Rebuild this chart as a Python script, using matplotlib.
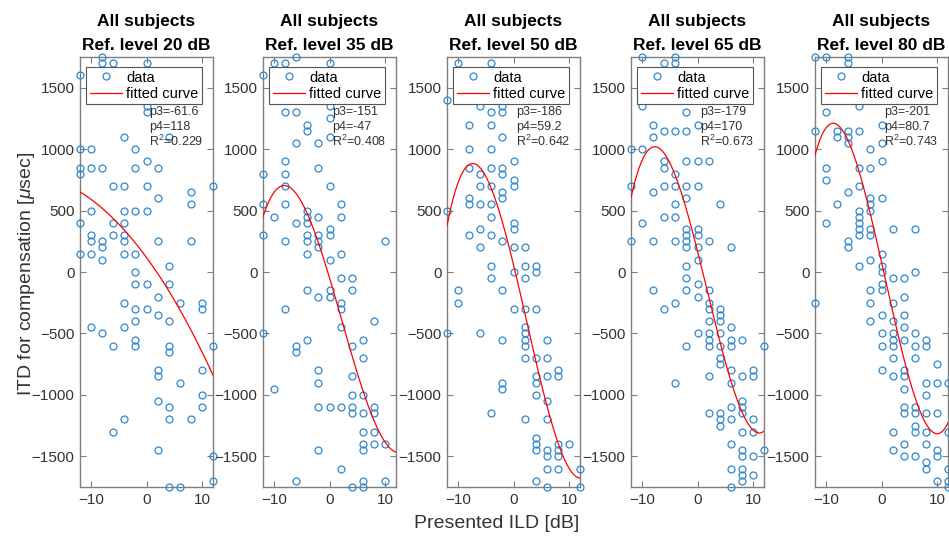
import matplotlib
matplotlib.use("Agg")
import matplotlib.pyplot as plt
import numpy as np

plt.rcParams['font.family'] = ['Liberation Sans', 'DejaVu Sans']
plt.rcParams['mathtext.fontset'] = 'custom'
plt.rcParams['mathtext.rm'] = 'Liberation Sans'
plt.rcParams['mathtext.it'] = 'Liberation Sans:italic'

# reference levels (dB)
levels = [20, 35, 50, 65, 80]

# ITD compensation values [usec] per presented ILD [dB]
itd_20 = {
    -12: [1600, 1000, 850, 800, 400, 150],
    -10: [1000, 850, 500, 300, 250, 150, -450],
    -8: [1750, 1700, 850, 250, 200, 100, -500],
    -6: [1700, 700, 400, 300, -600, -1300],
    -4: [1100, 700, 500, 400, 300, 250, 150, -250, -450, -1200],
    -2: [1000, 850, 500, 150, 0, -100, -300, -400, -550, -600],
    0: [1700, 1350, 1300, 900, 700, 500, -100, -300],
    2: [850, 600, 250, -200, -350, -800, -850, -1050, -1450],
    4: [1100, 50, -100, -400, -600, -650, -1100, -1200, -1750],
    6: [-250, -900, -1750],
    8: [650, 550, 250, -1200],
    10: [-250, -300, -800, -1000, -1100],
    12: [700, -600, -1500, -1700],
}
itd_35 = {
    -12: [1600, 800, 550, 300, -500],
    -10: [1700, 450, -950],
    -8: [1700, 1300, 900, 800, 700, 550, 250, -300],
    -6: [1750, 1300, 1050, 400, -600, -650, -1700],
    -4: [1200, 1150, 500, 450, 400, 300, 250, 150, -150, -550],
    -2: [1050, 850, 450, 300, 250, 200, -200, -800, -900, -1100, -1450],
    0: [1700, 1350, 1250, 1100, 700, 350, 300, 100, -150, -200, -1100],
    2: [550, 450, 150, -50, -250, -300, -450, -1100, -1600],
    4: [-50, -150, -600, -850, -1000, -1100, -1150, -1750],
    6: [-550, -700, -1000, -1150, -1300, -1400, -1450, -1700, -1750],
    8: [-400, -1100, -1150, -1300, -1400],
    10: [250, -1400, -1700],
}
itd_50 = {
    -12: [1400, 500, -500],
    -10: [1700, -150, -250],
    -8: [1200, 1000, 850, 600, 550, 300],
    -6: [1350, 800, 700, 550, 350, 200, -500],
    -4: [1700, 1300, 1200, 1000, 850, 700, 550, 450, 300, 50, -50, -1150],
    -2: [1350, 1300, 1100, 850, 800, 650, 600, 250, -150, -550, -900, -950],
    0: [900, 750, 700, 400, 350, 200, 0, -300],
    2: [200, 50, -50, -300, -450, -500, -550, -600, -700, -1200],
    4: [50, 0, -300, -700, -850, -900, -1000, -1350, -1400, -1450, -1700],
    6: [-550, -700, -850, -1050, -1200, -1450, -1500, -1600, -1750],
    8: [-800, -850, -1400, -1450, -1500, -1600],
    10: [-1400],
    12: [-1600, -1750],
}
itd_65 = {
    -12: [1000, 700, 250],
    -10: [1750, 1350, 1000, 400],
    -8: [1200, 1100, 650, 250, -150],
    -6: [1700, 1150, 900, 850, 700, 450, -300],
    -4: [1750, 1700, 1150, 800, 700, 550, 450, 250, -250, -900],
    -2: [1300, 1150, 900, 700, 600, 350, 300, 250, 200, 50, -50, -150, -600],
    0: [1200, 900, 700, 350, 300, 200, 100, -100, -200, -500],
    2: [900, 250, -150, -250, -300, -400, -500, -550, -600, -850, -1150],
    4: [550, -300, -350, -400, -500, -600, -700, -750, -1150, -1200, -1250],
    6: [200, -450, -550, -600, -800, -900, -1100, -1200, -1400, -1600, -1750],
    8: [-550, -850, -1050, -1100, -1150, -1300, -1450, -1500, -1600, -1650, -1700],
    10: [-800, -850, -1200, -1300, -1500, -1650],
    12: [-600, -1450],
}
itd_80 = {
    -12: [1750, 1150, -250],
    -10: [1750, 1300, 850, 750, 400],
    -8: [1150, 1100, 550],
    -6: [1750, 1700, 1150, 1100, 1050, 650, 250, 200],
    -4: [1350, 1150, 850, 700, 500, 450, 400, 350, 300, 50],
    -2: [1000, 850, 600, 550, 500, 350, 300, 100, -150, -250, -400],
    0: [1200, 1050, 900, 600, 150, 50, 0, -100, -150, -350, -500, -600, -800],
    2: [350, -50, -250, -400, -500, -550, -600, -700, -850, -1300, -1450],
    4: [-50, -200, -350, -450, -550, -800, -850, -950, -1100, -1150, -1400, -1500],
    6: [350, 0, -500, -600, -700, -1100, -1150, -1250, -1300, -1500],
    8: [-550, -600, -900, -1000, -1150, -1300, -1400, -1550, -1600],
    10: [-750, -900, -1150, -1450, -1500, -1700],
    12: [-900, -1300, -1600, -1700, -1750],
}
itd_all = [itd_20, itd_35, itd_50, itd_65, itd_80]

# cubic fit y = p1*x^3 + p2*x^2 + p3*x + p4
p1 = [-0.0039, 0.494, 0.698, 0.693, 0.765]
p2 = [-1.47, -3.20, -4.93, -3.58, -1.52]
p3 = [-61.6, -151, -186, -179, -201]
p4 = [118, -47, 59.2, 170, 80.7]
r2 = [0.229, 0.408, 0.642, 0.673, 0.743]

fig = plt.figure(figsize=(9.49, 5.42), dpi=100)
W, H = 949, 542
lefts = [80, 263, 447, 631, 815]
ax_w, top, bottom = 133, 57, 487

blue = '#2f86c9'
frame = '#7f7f7f'
txt = '#333333'

xx = np.linspace(-12, 12, 200)
for i, lev in enumerate(levels):
    ax = fig.add_axes([lefts[i] / W, (H - bottom) / H, ax_w / W, (bottom - top) / H])
    d = itd_all[i]
    xs = [k for k in d for _ in d[k]]
    ys = [v for k in d for v in d[k]]
    ax.plot(xs, ys, 'o', ms=5, mfc='none', mec=blue, mew=0.9,
            label='data', clip_on=False, zorder=3)
    fit = np.polyval([p1[i], p2[i], p3[i], p4[i]], xx)
    ax.plot(xx, fit, color='#ff0000', lw=0.9, label='fitted curve', zorder=4)

    ax.set_xlim(-12, 12)
    ax.set_ylim(-1750, 1750)
    ax.set_xticks([-10, 0, 10])
    ax.set_yticks([-1500, -1000, -500, 0, 500, 1000, 1500])
    ax.tick_params(direction='in', top=True, right=True, length=4, width=0.8,
                   color=frame, labelcolor=txt, labelsize=11, pad=4)
    for s in ax.spines.values():
        s.set_color(frame)
        s.set_linewidth(1.0)
    ax.set_title(f'All subjects\nRef. level {lev} dB', fontsize=12.5,
                 fontweight='bold', color='black', pad=5, linespacing=1.75)

    leg = ax.legend(loc='upper left', bbox_to_anchor=(0.045, 0.977),
                    borderaxespad=0, fontsize=10.5, frameon=True, fancybox=False,
                    framealpha=1, edgecolor='#555555', handlelength=2.2,
                    handletextpad=0.3, borderpad=0.25, labelspacing=0.15)
    leg.get_frame().set_linewidth(0.8)
    leg.set_zorder(10)

    tx = 0.52
    ax.text(tx, 0.873, f'p3={p3[i]:g}', transform=ax.transAxes, fontsize=9,
            color=txt, va='center', zorder=5)
    ax.text(tx, 0.838, f'p4={p4[i]:g}', transform=ax.transAxes, fontsize=9,
            color=txt, va='center', zorder=5)
    ax.text(tx, 0.803, f'R$^2$={r2[i]:g}', transform=ax.transAxes, fontsize=9,
            color=txt, va='center', zorder=5)

fig.text(27 / W, 1 - 274 / H, r'ITD for compensation [$\mu$sec]', rotation=90,
         ha='center', va='center', fontsize=14, color=txt)
fig.text(497 / W, 1 - 523 / H, 'Presented ILD [dB]', ha='center', va='center',
         fontsize=14, color=txt)

fig.savefig('out.png', dpi=100)
